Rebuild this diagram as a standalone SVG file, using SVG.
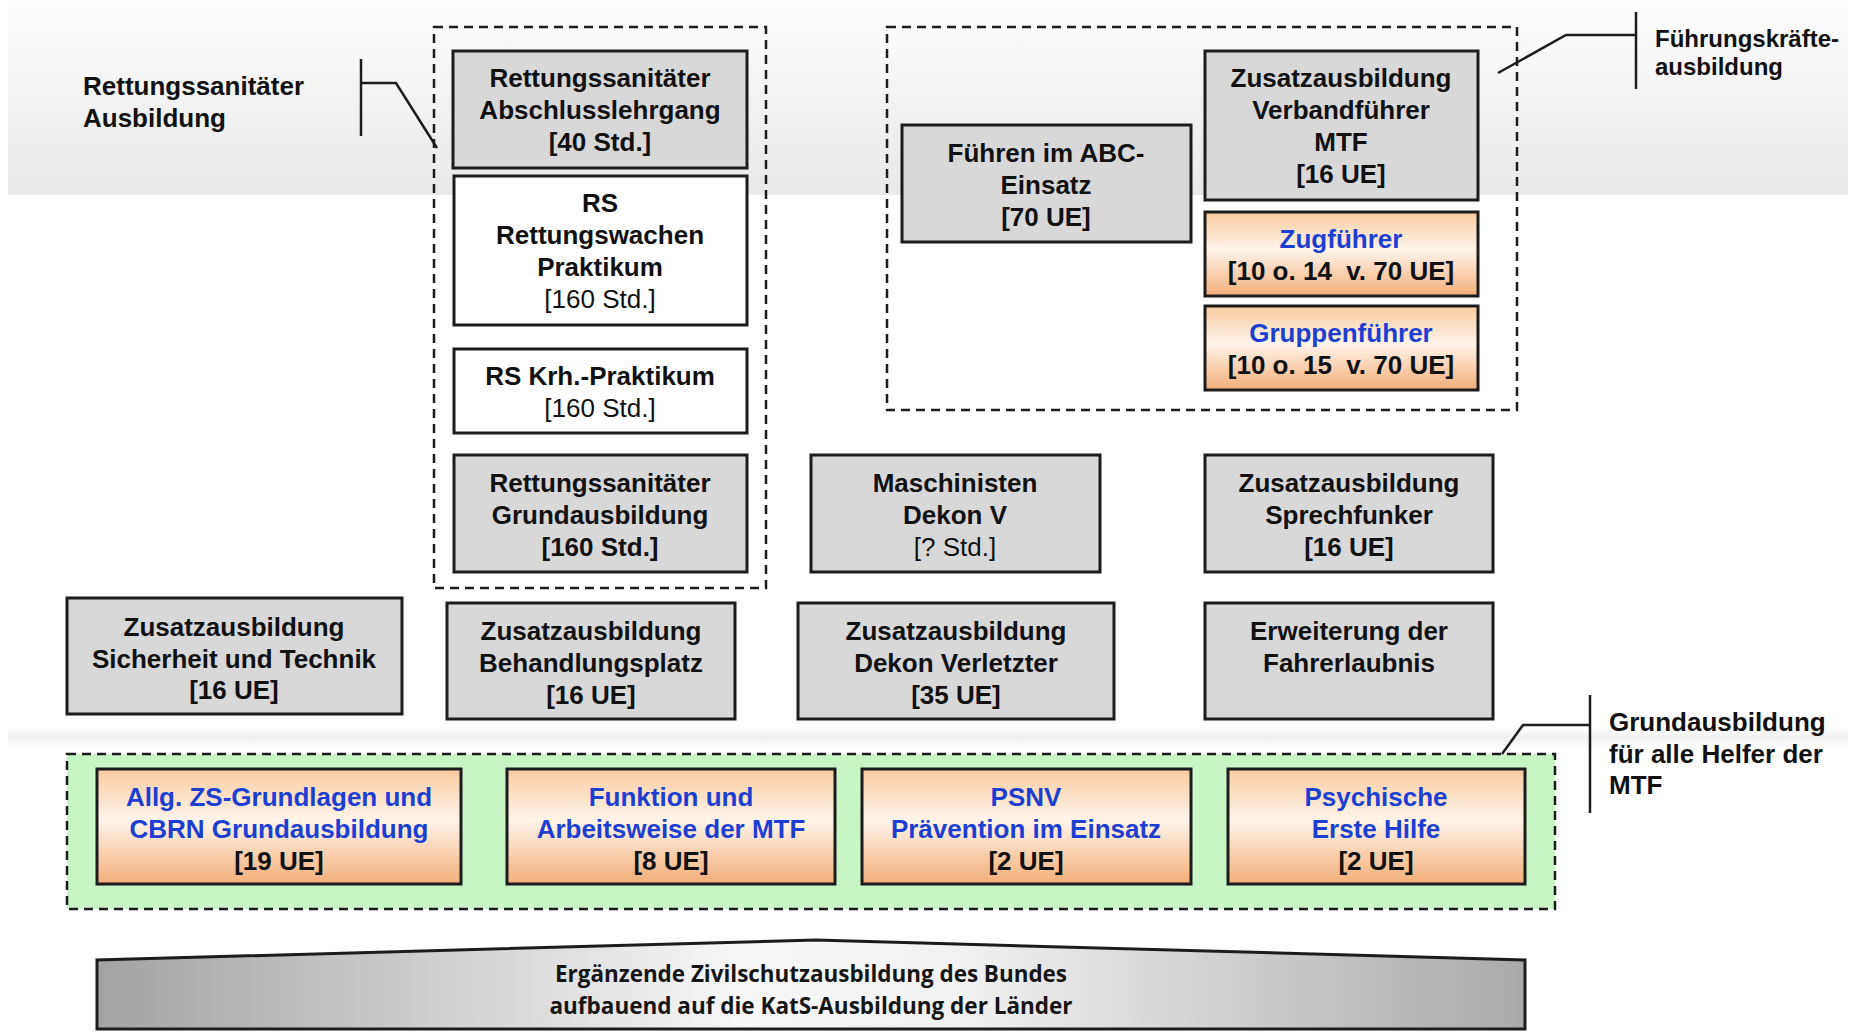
<svg xmlns="http://www.w3.org/2000/svg" width="1854" height="1033" viewBox="0 0 1854 1033">
<defs>
<linearGradient id="topband" x1="0" y1="0" x2="0" y2="1">
<stop offset="0" stop-color="#fefefe"/>
<stop offset="0.5" stop-color="#f3f3f3"/>
<stop offset="1" stop-color="#e9e9e9"/>
</linearGradient>
<linearGradient id="orange" x1="0" y1="0" x2="0" y2="1">
<stop offset="0" stop-color="#f9cba0"/>
<stop offset="0.45" stop-color="#fff4ea"/>
<stop offset="1" stop-color="#f3ae78"/>
</linearGradient>
<linearGradient id="banner" x1="0" y1="0" x2="1" y2="0">
<stop offset="0" stop-color="#a3a3a3"/>
<stop offset="0.45" stop-color="#f7f7f7"/>
<stop offset="0.6" stop-color="#f2f2f2"/>
<stop offset="1" stop-color="#aaaaaa"/>
</linearGradient>
<linearGradient id="faint" x1="0" y1="0" x2="0" y2="1">
<stop offset="0" stop-color="#ffffff"/>
<stop offset="0.5" stop-color="#efefef"/>
<stop offset="1" stop-color="#ffffff"/>
</linearGradient>
</defs>
<style>
.box{stroke:#1c1c1c;stroke-width:3}
.gray{fill:#d8d8d8}
.white{fill:#ffffff}
.org{fill:url(#orange)}
.dash{fill:none;stroke:#1c1c1c;stroke-width:2.5;stroke-dasharray:9 6}
.t{font-family:"Liberation Sans",Arial,sans-serif;font-size:26px;font-weight:bold;fill:#111;text-anchor:middle}
.r{font-weight:normal}
.blue{fill:#1c3fd1}
.lbl{font-family:"Liberation Sans",Arial,sans-serif;font-size:26px;font-weight:bold;fill:#111;text-anchor:start}
.lbls{font-size:24px}
.br{fill:none;stroke:#1c1c1c;stroke-width:2.5}
.ban{font-family:"Open Sans","Liberation Sans",sans-serif;font-size:24px;font-weight:700;fill:#151515;text-anchor:middle}
</style>

<!-- background bands -->
<rect x="8" y="0" width="1840" height="195" fill="url(#topband)"/>
<rect x="8" y="728" width="1840" height="20" fill="url(#faint)"/>

<!-- group frames -->
<g id="group-rs">
<rect class="dash" x="434" y="27" width="332" height="561"/>
</g>
<g id="group-fk">
<rect class="dash" x="887" y="27" width="630" height="383"/>
</g>
<g id="group-grund">
<rect class="dash" x="67" y="754" width="1488" height="155" style="fill:#c8f5c4"/>
</g>

<!-- labels and brackets -->
<g id="connectors">
<polyline class="br" points="361,59 361,136"/>
<polyline class="br" points="361,83 396,83 437,148"/>
<polyline class="br" points="1636,12 1636,89"/>
<polyline class="br" points="1636,35 1566,35 1498,73"/>
<polyline class="br" points="1590,695 1590,813"/>
<polyline class="br" points="1590,725 1523,725 1502,754"/>
</g>

<g id="label-rs">
<text class="lbl" x="83" y="95">Rettungssanitäter</text>
<text class="lbl" x="83" y="127">Ausbildung</text>
</g>
<g id="label-fk">
<text class="lbl lbls" x="1655" y="47">Führungskräfte-</text>
<text class="lbl lbls" x="1655" y="75">ausbildung</text>
</g>
<g id="label-grund">
<text class="lbl" x="1609" y="731">Grundausbildung</text>
<text class="lbl" x="1609" y="763">für alle Helfer der</text>
<text class="lbl" x="1609" y="794">MTF</text>
</g>

<!-- RS column -->
<g id="rs-abschluss">
<rect class="box gray" x="453" y="51" width="294" height="117"/>
<text class="t" x="600" y="87">Rettungssanitäter</text>
<text class="t" x="600" y="119">Abschlusslehrgang</text>
<text class="t" x="600" y="151">[40 Std.]</text>
</g>
<g id="rs-wache">
<rect class="box white" x="454" y="176" width="293" height="149"/>
<text class="t" x="600" y="212">RS</text>
<text class="t" x="600" y="244">Rettungswachen</text>
<text class="t" x="600" y="276">Praktikum</text>
<text class="t r" x="600" y="308">[160 Std.]</text>
</g>
<g id="rs-krh">
<rect class="box white" x="454" y="349" width="293" height="84"/>
<text class="t" x="600" y="385">RS Krh.-Praktikum</text>
<text class="t r" x="600" y="417">[160 Std.]</text>
</g>
<g id="rs-grund">
<rect class="box gray" x="454" y="455" width="293" height="117"/>
<text class="t" x="600" y="492">Rettungssanitäter</text>
<text class="t" x="600" y="524">Grundausbildung</text>
<text class="t" x="600" y="556">[160 Std.]</text>
</g>

<!-- Führungskräfte -->
<g id="abc">
<rect class="box gray" x="902" y="125" width="289" height="117"/>
<text class="t" x="1046" y="162">Führen im ABC-</text>
<text class="t" x="1046" y="194">Einsatz</text>
<text class="t" x="1046" y="226">[70 UE]</text>
</g>
<g id="verband">
<rect class="box gray" x="1205" y="51" width="273" height="149"/>
<text class="t" x="1341" y="87">Zusatzausbildung</text>
<text class="t" x="1341" y="119">Verbandführer</text>
<text class="t" x="1341" y="151">MTF</text>
<text class="t" x="1341" y="183">[16 UE]</text>
</g>
<g id="zug">
<rect class="box org" x="1205" y="212" width="273" height="84"/>
<text class="t blue" x="1341" y="248">Zugführer</text>
<text class="t" x="1341" y="280" xml:space="preserve">[10 o. 14  v. 70 UE]</text>
</g>
<g id="gruppe">
<rect class="box org" x="1205" y="306" width="273" height="84"/>
<text class="t blue" x="1341" y="342">Gruppenführer</text>
<text class="t" x="1341" y="374" xml:space="preserve">[10 o. 15  v. 70 UE]</text>
</g>

<!-- middle row -->
<g id="maschinisten">
<rect class="box gray" x="811" y="455" width="289" height="117"/>
<text class="t" x="955" y="492">Maschinisten</text>
<text class="t" x="955" y="524">Dekon V</text>
<text class="t r" x="955" y="556">[? Std.]</text>
</g>
<g id="sprechfunker">
<rect class="box gray" x="1205" y="455" width="288" height="117"/>
<text class="t" x="1349" y="492">Zusatzausbildung</text>
<text class="t" x="1349" y="524">Sprechfunker</text>
<text class="t" x="1349" y="556">[16 UE]</text>
</g>

<!-- lower row -->
<g id="sicherheit">
<rect class="box gray" x="67" y="598" width="335" height="116"/>
<text class="t" x="234" y="636">Zusatzausbildung</text>
<text class="t" x="234" y="668">Sicherheit und Technik</text>
<text class="t" x="234" y="699">[16 UE]</text>
</g>
<g id="behandlungsplatz">
<rect class="box gray" x="447" y="603" width="288" height="116"/>
<text class="t" x="591" y="640">Zusatzausbildung</text>
<text class="t" x="591" y="672">Behandlungsplatz</text>
<text class="t" x="591" y="704">[16 UE]</text>
</g>
<g id="dekon">
<rect class="box gray" x="798" y="603" width="316" height="116"/>
<text class="t" x="956" y="640">Zusatzausbildung</text>
<text class="t" x="956" y="672">Dekon Verletzter</text>
<text class="t" x="956" y="704">[35 UE]</text>
</g>
<g id="fahrerlaubnis">
<rect class="box gray" x="1205" y="603" width="288" height="116"/>
<text class="t" x="1349" y="640">Erweiterung der</text>
<text class="t" x="1349" y="672">Fahrerlaubnis</text>
</g>

<!-- Grundausbildung row -->
<g id="allg">
<rect class="box org" x="97" y="769" width="364" height="115"/>
<text class="t blue" x="279" y="806">Allg. ZS-Grundlagen und</text>
<text class="t blue" x="279" y="838">CBRN Grundausbildung</text>
<text class="t" x="279" y="870">[19 UE]</text>
</g>
<g id="funktion">
<rect class="box org" x="507" y="769" width="328" height="115"/>
<text class="t blue" x="671" y="806">Funktion und</text>
<text class="t blue" x="671" y="838">Arbeitsweise der MTF</text>
<text class="t" x="671" y="870">[8 UE]</text>
</g>
<g id="psnv">
<rect class="box org" x="862" y="769" width="329" height="115"/>
<text class="t blue" x="1026" y="806">PSNV</text>
<text class="t blue" x="1026" y="838">Prävention im Einsatz</text>
<text class="t" x="1026" y="870">[2 UE]</text>
</g>
<g id="psychisch">
<rect class="box org" x="1228" y="769" width="297" height="115"/>
<text class="t blue" x="1376" y="806">Psychische</text>
<text class="t blue" x="1376" y="838">Erste Hilfe</text>
<text class="t" x="1376" y="870">[2 UE]</text>
</g>

<!-- base banner -->
<g id="banner">
<polygon points="97,1029 97,960 816,940 1525,960 1525,1029" fill="url(#banner)" stroke="#1c1c1c" stroke-width="3"/>
<text class="ban" x="811" y="982" textLength="512" lengthAdjust="spacingAndGlyphs">Ergänzende Zivilschutzausbildung des Bundes</text>
<text class="ban" x="811" y="1014" textLength="523" lengthAdjust="spacingAndGlyphs">aufbauend auf die KatS-Ausbildung der Länder</text>
</g>
</svg>
